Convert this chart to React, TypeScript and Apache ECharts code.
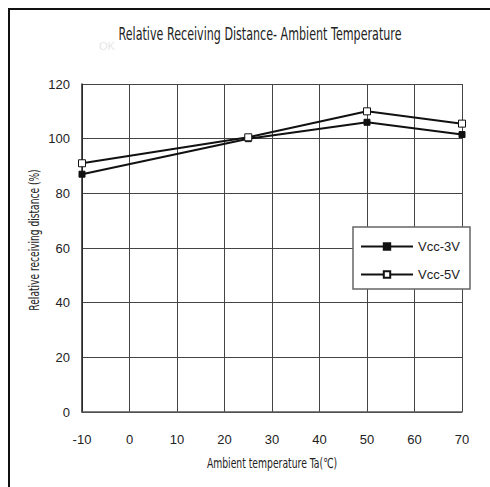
import React, { useEffect, useRef } from "react";
import * as echarts from "echarts";

const temps = [-10, 25, 50, 70];
const vcc3 = [87, 100, 106, 101.5];
const vcc5 = [91, 100.5, 110, 105.5];
const seriesNames = ["Vcc-3V", "Vcc-5V"];
const titleText = "Relative Receiving Distance- Ambient Temperature";
const xName = "Ambient temperature Ta(℃)";
const yName = "Relative receiving distance (%)";

const FONT = "'Liberation Sans', sans-serif";
const WIDE = "'DejaVu Sans', sans-serif";

export default function App() {
  const ref = useRef<HTMLDivElement>(null);
  useEffect(() => {
    document.body.style.margin = "0";
    const chart = echarts.init(ref.current!, null, { renderer: "svg" });
    chart.setOption({
      animation: false,
      backgroundColor: "#fff",
      textStyle: { fontFamily: FONT },
      grid: { left: 82, right: 28, top: 84, bottom: 75 },
      xAxis: {
        type: "value",
        min: -10,
        max: 70,
        interval: 10,
        axisLine: { show: true, onZero: false, lineStyle: { color: "#555", width: 1.5 } },
        axisTick: { show: false },
        axisLabel: { fontFamily: FONT, fontSize: 13, color: "#222", margin: 21 },
        splitLine: { show: true, lineStyle: { color: "#444", width: 1 } },
      },
      yAxis: {
        type: "value",
        min: 0,
        max: 120,
        interval: 20,
        axisLine: { show: true, onZero: false, lineStyle: { color: "#222", width: 1.5 } },
        axisTick: { show: false },
        axisLabel: { fontFamily: FONT, fontSize: 13, color: "#222", margin: 12 },
        splitLine: { show: true, lineStyle: { color: "#444", width: 1 } },
      },
      legend: {
        orient: "vertical",
        left: 360,
        top: 240,
        padding: 0,
        itemWidth: 52,
        itemHeight: 8,
        itemGap: 15,
        itemTextGap: 5,
        z: 20,
        textStyle: { fontFamily: FONT, fontSize: 13, color: "#222" },
        data: seriesNames,
      },
      graphic: [
        {
          type: "rect",
          shape: { x: 9, y: 9, width: 600, height: 600 },
          style: { fill: "none", stroke: "#111", lineWidth: 2 },
          z: 1,
          silent: true,
        },
        {
          type: "rect",
          shape: { x: 353, y: 227, width: 117, height: 62 },
          style: { fill: "#fff", stroke: "#666", lineWidth: 1.5 },
          z: 10,
          silent: true,
        },
        {
          type: "text",
          x: 99,
          y: 40,
          style: { text: "OK", fill: "#e6e6e6", font: "11px " + FONT },
          z: 5,
        },
        {
          type: "text",
          x: 260,
          y: 34,
          scaleX: 0.655,
          style: {
            text: titleText,
            fill: "#222",
            font: "17px " + WIDE,
            textAlign: "center",
            textVerticalAlign: "middle",
          },
          z: 6,
        },
        {
          type: "text",
          x: 272,
          y: 463,
          scaleX: 0.66,
          style: {
            text: xName,
            fill: "#222",
            font: "14px " + WIDE,
            textAlign: "center",
            textVerticalAlign: "middle",
          },
          z: 6,
        },
        {
          type: "text",
          x: 34,
          y: 240,
          rotation: Math.PI / 2,
          scaleX: 0.65,
          style: {
            text: yName,
            fill: "#222",
            font: "14px " + WIDE,
            textAlign: "center",
            textVerticalAlign: "middle",
          },
          z: 6,
        },
      ],
      series: [
        {
          name: seriesNames[0],
          type: "line",
          data: temps.map((t, i) => [t, vcc3[i]]),
          symbol: "rect",
          symbolSize: 6,
          lineStyle: { color: "#111", width: 2 },
          itemStyle: { color: "#111", borderColor: "#111", borderWidth: 1 },
          z: 5,
        },
        {
          name: seriesNames[1],
          type: "line",
          data: temps.map((t, i) => [t, vcc5[i]]),
          symbol: "rect",
          symbolSize: 7,
          lineStyle: { color: "#111", width: 2 },
          itemStyle: { color: "#fff", borderColor: "#111", borderWidth: 1 },
          z: 6,
        },
      ],
    });
    return () => chart.dispose();
  }, []);
  return <div ref={ref} style={{ width: 490, height: 487 }} />;
}
